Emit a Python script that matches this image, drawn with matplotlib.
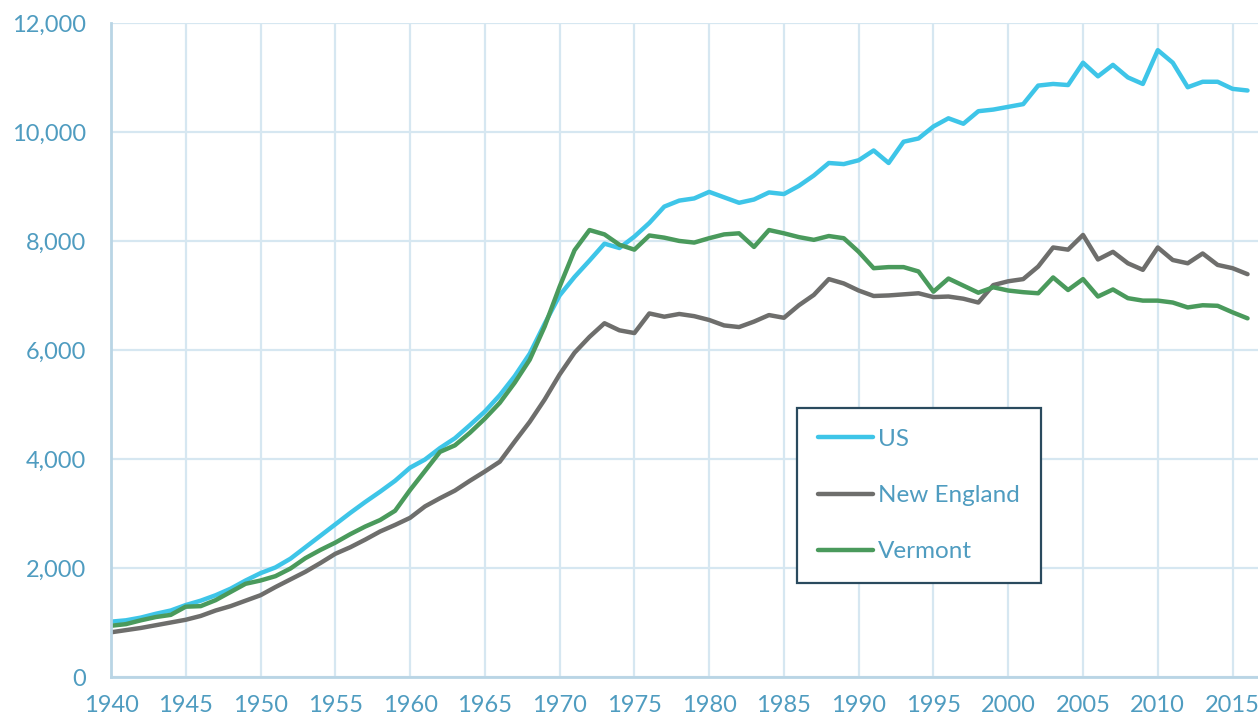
import numpy as np
import matplotlib
matplotlib.use("Agg")
from matplotlib import pyplot as plt

# Annual values, 1940-2016
years = list(range(1940, 2017))

us = [1015, 1040, 1090, 1160, 1220, 1320, 1400, 1500, 1620, 1770,
      1905, 2010, 2170, 2380, 2590, 2800, 3010, 3210, 3400, 3600,
      3840, 3990, 4200, 4380, 4620, 4870, 5170, 5520, 5930, 6480,
      7000, 7340, 7640, 7950, 7870, 8080, 8330, 8630, 8740, 8780,
      8900, 8800, 8700, 8760, 8890, 8860, 9010, 9200, 9430, 9410,
      9480, 9660, 9430, 9820, 9880, 10100, 10250, 10150, 10380, 10410,
      10460, 10510, 10850, 10880, 10860, 11270, 11020, 11230, 11000, 10880,
      11500, 11270, 10820, 10920, 10920, 10790, 10760]

new_england = [820, 860, 900, 950, 1000, 1050, 1120, 1220, 1300, 1400,
               1500, 1650, 1790, 1930, 2090, 2260, 2380, 2520, 2670, 2790,
               2920, 3130, 3280, 3420, 3600, 3770, 3950, 4320, 4680, 5090,
               5550, 5950, 6240, 6490, 6360, 6310, 6670, 6610, 6660, 6620,
               6550, 6450, 6420, 6520, 6640, 6590, 6820, 7010, 7300, 7220,
               7090, 6990, 7000, 7020, 7040, 6970, 6980, 6940, 6870, 7190,
               7260, 7300, 7530, 7880, 7840, 8110, 7660, 7800, 7590, 7470,
               7880, 7650, 7590, 7770, 7560, 7500, 7390]

vermont = [940, 970, 1040, 1100, 1140, 1290, 1300, 1410, 1560, 1710,
           1770, 1850, 1990, 2180, 2330, 2465, 2620, 2760, 2880, 3050,
           3430, 3780, 4130, 4250, 4480, 4740, 5030, 5400, 5820, 6430,
           7160, 7830, 8200, 8120, 7930, 7840, 8100, 8060, 8000, 7970,
           8050, 8120, 8140, 7890, 8200, 8140, 8070, 8020, 8090, 8050,
           7800, 7500, 7520, 7520, 7440, 7070, 7310, 7180, 7050, 7150,
           7090, 7060, 7040, 7330, 7100, 7300, 6980, 7110, 6950, 6905,
           6905, 6870, 6780, 6820, 6810, 6690, 6580]

x_ticks = list(range(1940, 2016, 5))
y_ticks = list(range(0, 12001, 2000))

text_col = "#4f9cc0"
grid_col = "#d6e7f1"
spine_col = "#b9d5e5"

plt.rcParams['font.family'] = ['Lato', 'DejaVu Sans']

fig = plt.figure(figsize=(12.58, 7.18), dpi=100)
ax = fig.add_axes([0.0882, 0.0571, 0.9118, 0.911])

ax.plot(years, us, color="#3ec5e8", lw=3.2, label="US", solid_joinstyle="round", solid_capstyle="round")
ax.plot(years, new_england, color="#6e6e6c", lw=3.2, label="New England", solid_joinstyle="round", solid_capstyle="round")
ax.plot(years, vermont, color="#4a9a5c", lw=3.2, label="Vermont", solid_joinstyle="round", solid_capstyle="round")

ax.set_xlim(1940, 2016.7)
ax.set_ylim(0, 12000)
ax.set_xticks(x_ticks)
ax.set_yticks(y_ticks)
ax.set_yticklabels([f"{v:,}" for v in y_ticks])

ax.grid(True, color=grid_col, lw=1.6)
ax.set_axisbelow(True)
for s in ["top", "right"]:
    ax.spines[s].set_visible(False)
for s in ["left", "bottom"]:
    ax.spines[s].set_color(spine_col)
    ax.spines[s].set_linewidth(2)

ax.tick_params(axis="both", length=0, colors=text_col, labelsize=17)
ax.tick_params(axis="y", pad=18)
ax.tick_params(axis="x", pad=13)

leg = ax.legend(loc="upper left", bbox_to_anchor=(0.598, 0.411), fontsize=17.5,
                frameon=True, fancybox=False, framealpha=1, borderpad=0.85,
                handlelength=2.3, handletextpad=0.2, labelspacing=1.45,
                borderaxespad=0)
leg.get_frame().set_edgecolor("#2a4a5e")
leg.get_frame().set_linewidth(1.6)
for t in leg.get_texts():
    t.set_color(text_col)

fig.savefig("out.png", dpi=100)
